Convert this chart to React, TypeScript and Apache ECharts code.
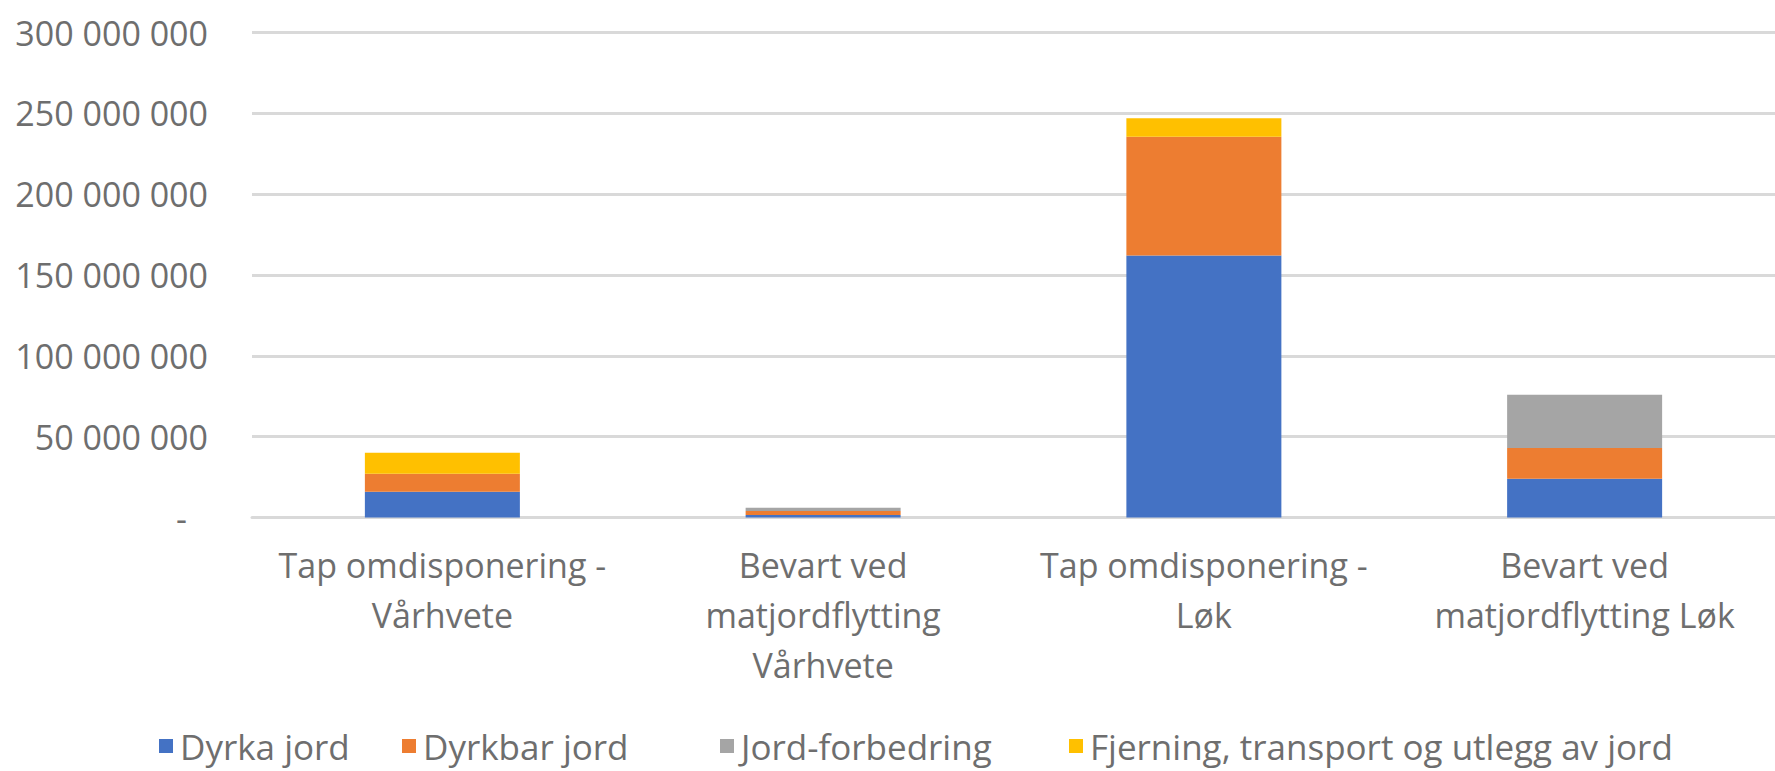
import React, { useEffect, useRef } from "react";
import * as echarts from "echarts";

const categories = [
  "Tap omdisponering -\nVårhvete",
  "Bevart ved\nmatjordflytting\nVårhvete",
  "Tap omdisponering -\nLøk",
  "Bevart ved\nmatjordflytting Løk",
];

const seriesNames = [
  "Dyrka jord",
  "Dyrkbar jord",
  "Jord-forbedring",
  "Fjerning, transport og utlegg av jord",
];

const dyrkaJord = [16000000, 1500000, 162000000, 24000000];
const dyrkbarJord = [11000000, 2500000, 73500000, 19000000];
const jordForbedring = [0, 2000000, 0, 33000000];
const fjerning = [13000000, 0, 11500000, 0];

const seriesColors = ["#4472C4", "#ED7D31", "#A5A5A5", "#FFC000"];

const yTickValues = [0, 50000000, 100000000, 150000000, 200000000, 250000000, 300000000];
const yTickLabels = ["-", "50 000 000", "100 000 000", "150 000 000", "200 000 000", "250 000 000", "300 000 000"];

const FONT = "'Open Sans', 'Liberation Sans', sans-serif";
const legendLefts = [154, 397, 715, 1064];

export default function App() {
  const ref = useRef<HTMLDivElement>(null);

  useEffect(() => {
    if (!ref.current) return;
    const chart = echarts.init(ref.current, null, { renderer: "svg" });
    const seriesData = [dyrkaJord, dyrkbarJord, jordForbedring, fjerning];
    chart.setOption({
      animation: false,
      backgroundColor: "#ffffff",
      textStyle: { fontFamily: FONT },
      grid: { left: 252, top: 32.5, width: 1550, height: 485, containLabel: false },
      legend: seriesNames.map((name, i) => ({
        left: legendLefts[i],
        top: 723,
        itemWidth: 14,
        itemHeight: 14,
        icon: "rect",
        selectedMode: false,
        textStyle: { fontFamily: FONT, fontSize: 35, lineHeight: 36, color: "#6e6e6e", padding: [0, 0, 0, 2] },
        data: [name],
      })),
      xAxis: {
        type: "category",
        data: categories,
        axisLine: { show: true, lineStyle: { color: "#d9d9d9", width: 3 } },
        axisTick: { show: false },
        axisLabel: {
          interval: 0,
          margin: 22,
          fontFamily: FONT,
          fontSize: 34,
          lineHeight: 50,
          color: "#6e6e6e",
          align: "center",
        },
      },
      yAxis: {
        type: "value",
        min: 0,
        max: 300000000,
        interval: 50000000,
        axisLine: { show: false },
        axisTick: { show: false },
        splitLine: { show: true, lineStyle: { color: "#d9d9d9", width: 3 } },
        axisLabel: {
          margin: 44,
          fontFamily: FONT,
          fontSize: 34,
          color: "#6e6e6e",
          formatter: (v: number) => {
            const idx = yTickValues.indexOf(v);
            const label = idx >= 0 ? yTickLabels[idx] : String(v);
            return v === 0 ? "{z|" + label + "}" : label;
          },
          rich: {
            z: { fontFamily: FONT, fontSize: 34, color: "#6e6e6e", padding: [0, 21, 0, 0] },
          },
        },
      },
      series: seriesNames.map((name, i) => ({
        name,
        type: "bar",
        stack: "total",
        barWidth: 155,
        itemStyle: { color: seriesColors[i] },
        data: seriesData[i],
      })),
    });
    return () => chart.dispose();
  }, []);

  return (
    <div
      ref={ref}
      style={{ position: "fixed", left: 0, top: 0, width: 1775, height: 771, background: "#fff" }}
    />
  );
}
